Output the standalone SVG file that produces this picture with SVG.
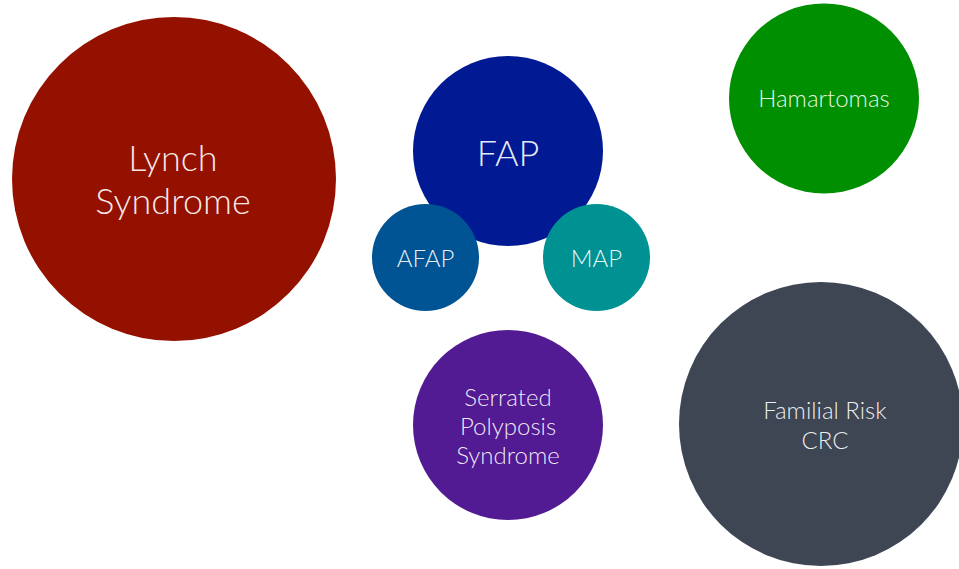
<svg xmlns="http://www.w3.org/2000/svg" width="959" height="569" viewBox="0 0 959 569">
  <style>
    text { font-family: "Lato", "Open Sans", "Liberation Sans", sans-serif; font-weight: 300; fill: #ffffff; fill-opacity: 0.92; text-anchor: middle; }
    .xl { font-size: 36px; }
    .md { font-size: 24px; }
  </style>
  <rect width="959" height="569" fill="#ffffff"/>
  <g id="lynch">
    <circle cx="174" cy="179" r="162" fill="#941100"/>
    <text class="xl" x="173" y="171">Lynch</text>
    <text class="xl" x="173" y="214">Syndrome</text>
  </g>
  <g id="fap">
    <circle cx="508" cy="151" r="95" fill="#011993"/>
    <text class="xl" x="508" y="166">FAP</text>
  </g>
  <g id="afap">
    <circle cx="425.5" cy="257.5" r="53.5" fill="#005493"/>
    <text class="md" x="425.5" y="267">AFAP</text>
  </g>
  <g id="map">
    <circle cx="596.5" cy="257.5" r="53.5" fill="#009193"/>
    <text class="md" x="596.5" y="267">MAP</text>
  </g>
  <g id="hamartomas">
    <circle cx="824" cy="98.5" r="95" fill="#008F00"/>
    <text class="md" x="824" y="107">Hamartomas</text>
  </g>
  <g id="serrated">
    <circle cx="508" cy="425" r="95" fill="#531B93"/>
    <text class="md" x="508" y="406">Serrated</text>
    <text class="md" x="508" y="435">Polyposis</text>
    <text class="md" x="508" y="464">Syndrome</text>
  </g>
  <g id="familial">
    <circle cx="821" cy="424" r="142" fill="#3E4553"/>
    <text class="md" x="825" y="419">Familial Risk</text>
    <text class="md" x="825" y="449">CRC</text>
  </g>
  <g id="connectors"/>
</svg>
